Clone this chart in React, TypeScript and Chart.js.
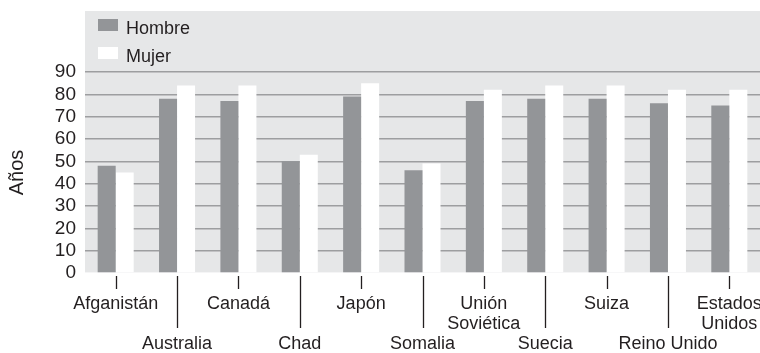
import React, { useEffect, useRef } from "react";
import { Chart, registerables } from "chart.js";

Chart.register(...registerables);

// Esperanza de vida al nacer por país y sexo
const paises: (string | string[])[] = [
  ["Afganistán"],
  ["", "", "Australia"],
  ["Canadá"],
  ["", "", "Chad"],
  ["Japón"],
  ["", "", "Somalia"],
  ["Unión", "Soviética"],
  ["", "", "Suecia"],
  ["Suiza"],
  ["", "", "Reino Unido"],
  ["Estados", "Unidos"],
];
const hombre = [48, 78, 77, 50, 79, 46, 77, 78, 78, 76, 75];
const mujer = [45, 84, 84, 53, 85, 49, 82, 84, 84, 82, 82];
const yTicks = [0, 10, 20, 30, 40, 50, 60, 70, 80, 90];

const FONT = "'Liberation Sans', Arial, Helvetica, sans-serif";
const INK = "#231f20";
const PANEL = "#e6e7e8";
const GRID = "#9d9ea0";
const GRAY_BAR = "#939598";

const seriesLegend = [
  { label: "Hombre", color: GRAY_BAR },
  { label: "Mujer", color: "#ffffff" },
];

// Gray panel behind the plot plus the stacked legend in its upper-left corner
const panelPlugin = {
  id: "panelAndLegend",
  beforeDraw(chart: Chart) {
    const { ctx, chartArea, width } = chart;
    ctx.save();
    ctx.fillStyle = PANEL;
    ctx.fillRect(chartArea.left, 11, width - chartArea.left, chartArea.bottom - 11);
    ctx.font = `18px ${FONT}`;
    ctx.textBaseline = "alphabetic";
    ctx.textAlign = "left";
    seriesLegend.forEach((item, i) => {
      const top = 19 + i * 28;
      ctx.fillStyle = item.color;
      ctx.fillRect(chartArea.left + 13, top, 20, 12);
      ctx.fillStyle = INK;
      ctx.fillText(item.label, chartArea.left + 41, top + 14.5);
    });
    ctx.restore();
  },
  // Alternating short / long tick marks under each category
  afterDraw(chart: Chart) {
    const { ctx, chartArea } = chart;
    const x = chart.scales.x;
    ctx.save();
    ctx.strokeStyle = INK;
    ctx.lineWidth = 1.3;
    paises.forEach((_, i) => {
      const px = Math.round(x.getPixelForTick(i)) + 0.5;
      const y0 = chartArea.bottom + 3;
      const y1 = i % 2 === 0 ? chartArea.bottom + 16 : chartArea.bottom + 55;
      ctx.beginPath();
      ctx.moveTo(px, y0);
      ctx.lineTo(px, y1);
      ctx.stroke();
    });
    ctx.restore();
  },
};

export default function App() {
  const canvasRef = useRef<HTMLCanvasElement | null>(null);

  useEffect(() => {
    if (!canvasRef.current) return;
    const chart = new Chart(canvasRef.current, {
      type: "bar",
      data: {
        labels: paises,
        datasets: [
          {
            label: "Hombre",
            data: hombre,
            backgroundColor: GRAY_BAR,
            borderWidth: 0,
            categoryPercentage: 0.587,
            barPercentage: 1,
          },
          {
            label: "Mujer",
            data: mujer,
            backgroundColor: "#ffffff",
            borderWidth: 0,
            categoryPercentage: 0.587,
            barPercentage: 1,
          },
        ],
      },
      options: {
        animation: false,
        responsive: true,
        maintainAspectRatio: false,
        layout: { padding: { top: 72, left: 0, right: 0, bottom: 0 } },
        plugins: {
          legend: { display: false },
          tooltip: { enabled: false },
        },
        scales: {
          x: {
            offset: true,
            border: { display: false },
            grid: { display: false, drawTicks: false },
            ticks: {
              color: INK,
              font: { family: FONT, size: 18, lineHeight: "20px" },
              padding: 21,
              maxRotation: 0,
              minRotation: 0,
              autoSkip: false,
            },
            afterFit(scale: any) {
              scale.height = 80;
              scale.paddingLeft = 0;
              scale.paddingRight = 0;
            },
          },
          y: {
            min: 0,
            max: 90,
            border: { display: false },
            afterBuildTicks(scale: any) {
              scale.ticks = yTicks.map((v) => ({ value: v }));
            },
            grid: {
              drawTicks: false,
              lineWidth: 1.5,
              color: (c: any) => (c.tick && c.tick.value === 0 ? "rgba(255,255,255,0.6)" : GRID),
            },
            ticks: {
              color: INK,
              font: { family: FONT, size: 19, lineHeight: 1 },
              padding: 9,
              autoSkip: false,
            },
            title: {
              display: true,
              text: "Años",
              color: INK,
              font: { family: FONT, size: 20, lineHeight: 1.2 },
              padding: { top: 5, bottom: 0 },
            },
            afterFit(scale: any) {
              scale.width = 85;
            },
          },
        },
      },
      plugins: [panelPlugin],
    });
    return () => chart.destroy();
  }, []);

  return (
    <div style={{ position: "fixed", left: 0, top: 0, width: 760, height: 353, background: "#ffffff" }}>
      <canvas ref={canvasRef} />
    </div>
  );
}
